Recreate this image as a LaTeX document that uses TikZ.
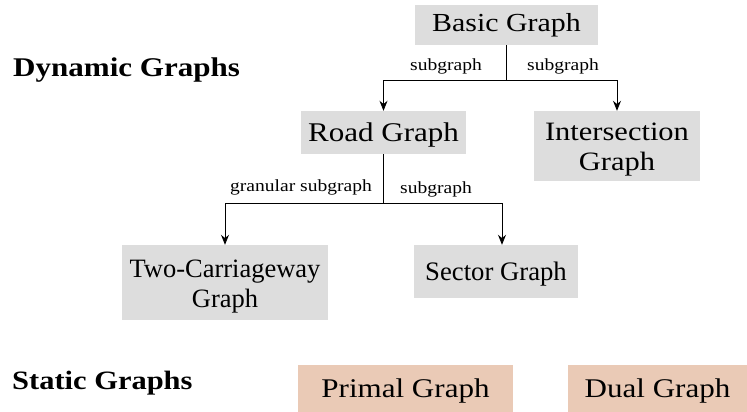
\documentclass[tikz,border=0pt]{standalone}
\usepackage{fontspec}
\setmainfont{Liberation Serif}[FakeStretch=1.15]
\newfontfamily\plainserif{Liberation Serif}
\usetikzlibrary{arrows.meta}
\definecolor{boxgray}{HTML}{DDDDDD}
\definecolor{peach}{HTML}{EACAB6}
\begin{document}
\begin{tikzpicture}[x=1pt,y=1pt,
  gbox/.style={fill=boxgray,draw=none,inner sep=0pt,align=center,font=\fontsize{27}{30}\selectfont},
  pbox/.style={fill=peach,draw=none,inner sep=0pt,align=center,text depth=0pt,font=\fontsize{27}{30}\selectfont},
  txt/.style={inner sep=0pt,align=center},
  lbl/.style={inner sep=0pt,font=\fontsize{17}{20}\selectfont},
  head/.style={inner sep=0pt,anchor=west},
  conn/.style={line width=0.9pt,-{Stealth[length=10pt,width=8pt]}}]
\useasboundingbox (0,0) rectangle (747,-412);
\node[gbox,minimum width=183pt,minimum height=40pt,font=\fontsize{26}{30}\selectfont] (basic) at (506.5,-25) {Basic Graph};
\node[gbox,text depth=0pt,minimum width=165pt,minimum height=43pt] (road) at (383.5,-132.5) {Road Graph};
\node[gbox,minimum width=166pt,minimum height=70pt] (inter) at (617,-146) {};
\node[txt,font=\fontsize{26.5}{30}\selectfont] (intertxt) at ([yshift=-4pt]inter.center) {Intersection\\Graph};
\node[gbox,minimum width=206pt,minimum height=75pt] (two) at (225,-282.5) {};
\node[txt,font=\plainserif\fontsize{26.5}{30}\selectfont] (twotxt) at ([yshift=-4pt]two.center) {Two-Carriageway\\Graph};
\node[gbox,text depth=0pt,minimum width=164pt,minimum height=53pt,font=\plainserif\fontsize{26.7}{30}\selectfont] (sector) at (496,-271.5) {Sector Graph};
\node[pbox,minimum width=215pt,minimum height=47pt] (primal) at (405.5,-388.5) {Primal Graph};
\node[pbox,minimum width=179pt,minimum height=47pt] (dual) at (657.5,-388.5) {Dual Graph};
\node[head,font=\fontsize{27}{30}\selectfont\bfseries] (dyn) at (13,-70) {Dynamic Graphs};
\node[head,font=\fontsize{26.5}{30}\selectfont\bfseries] (stat) at (12,-383) {Static Graphs};
\coordinate (j1) at (506.5,-80);
\coordinate (j2) at (383.5,-203);
\draw[line width=0.9pt] (basic.south) -- (j1);
\draw[conn] (j1) -| (road.north);
\draw[conn] (j1) -| (inter.north);
\draw[line width=0.9pt] (road.south) -- (j2);
\draw[conn] (j2) -| (two.north);
\draw[conn] (j2) -| ([xshift=6pt]sector.north);
\node[lbl] (l1) at (446,-66) {subgraph};
\node[lbl] (l2) at (563,-66) {subgraph};
\node[lbl] (l3) at (301,-187) {granular subgraph};
\node[lbl] (l4) at (436,-189) {subgraph};
\end{tikzpicture}
\end{document}
